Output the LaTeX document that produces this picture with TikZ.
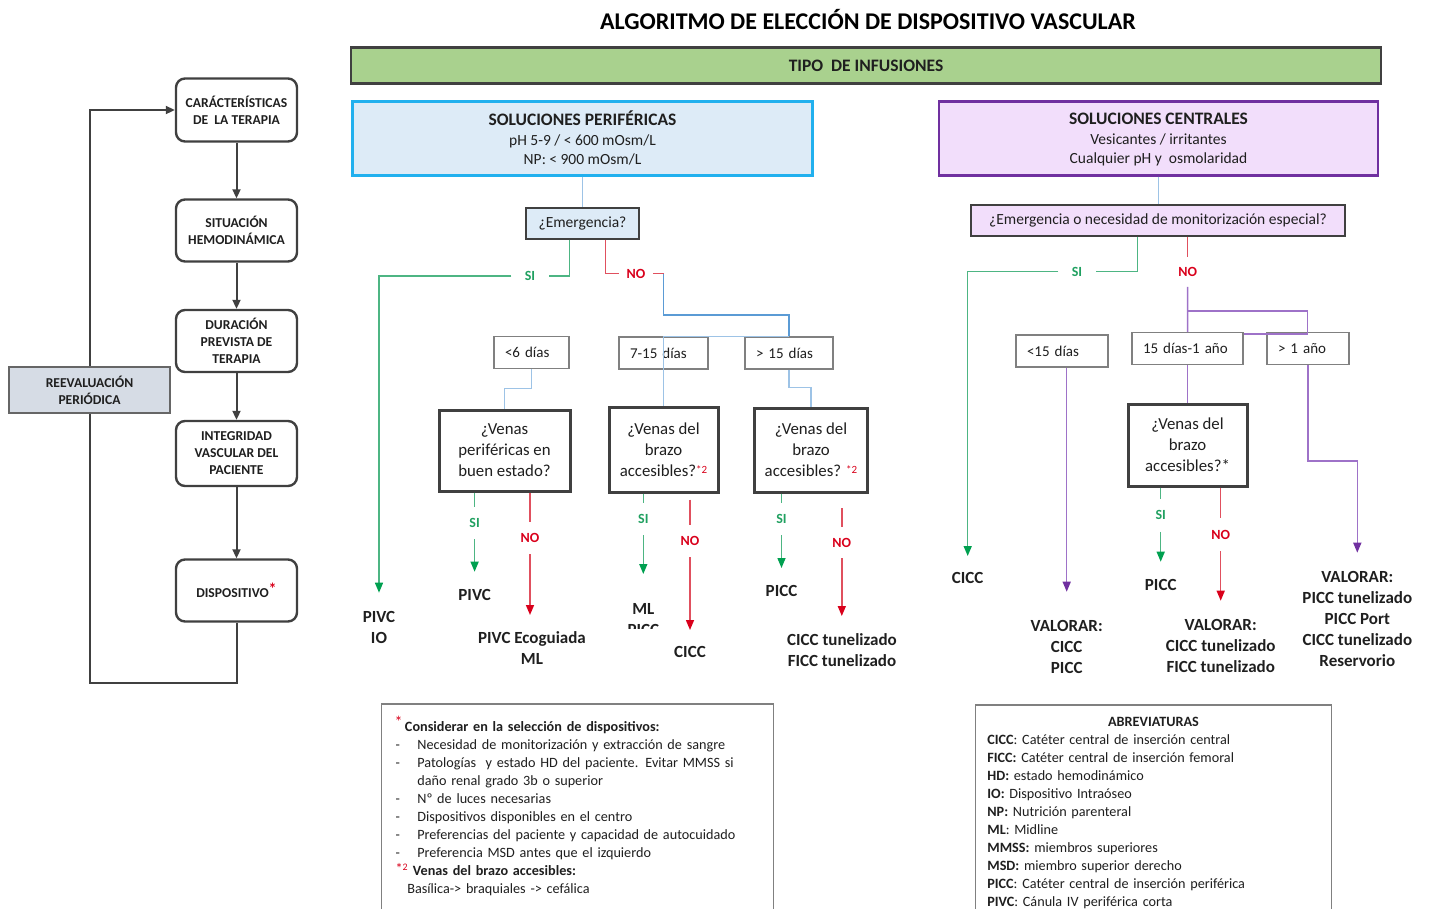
\documentclass[tikz,border=0pt]{standalone}
\usepackage{fontspec}
\setmainfont{Carlito}
\usetikzlibrary{arrows.meta}

\definecolor{txt}{HTML}{1F1F1F}
\definecolor{borde}{HTML}{404040}
\definecolor{gris}{HTML}{808080}
\definecolor{verdebar}{HTML}{A9D18E}
\definecolor{azulfondo}{HTML}{DDEBF7}
\definecolor{azulborde}{HTML}{21B0EE}
\definecolor{lilafondo}{HTML}{F2DEFB}
\definecolor{lilaborde}{HTML}{7030A0}
\definecolor{grisfondo}{HTML}{D6DCE5}
\definecolor{azulclaro}{HTML}{9DC3E6}
\definecolor{azulmedio}{HTML}{5B9BD5}
\definecolor{verdelin}{HTML}{4DB583}
\definecolor{verdepunta}{HTML}{00A050}
\definecolor{verdetxt}{HTML}{20A060}
\definecolor{rojolin}{HTML}{E0505E}
\definecolor{rojo}{HTML}{D9001B}
\definecolor{lila}{HTML}{9E72C8}
\definecolor{lilapunta}{HTML}{7030A0}

\begin{document}
\begin{tikzpicture}[x=1pt, y=-1pt,
  every node/.style={text=txt, inner sep=0pt},
  paso/.style={draw=borde, line width=2.4pt, rounded corners=9pt, fill=white, align=center,
    minimum width=121, minimum height=62, font=\bfseries\fontsize{13.6}{17}\selectfont},
  flecha/.style={draw=borde, line width=2pt, -{Triangle[length=9pt,width=8pt]}},
  cabecera/.style={line width=2.6pt, minimum height=74, align=center, font=\fontsize{15.5}{19.5}\selectfont},
  pregunta/.style={draw=borde, line width=1.3pt, minimum height=31, font=\fontsize{15.5}{17}\selectfont},
  plazo/.style={draw=gris, line width=1.3pt, fill=white, minimum height=32, inner xsep=11pt,
    align=left, font=\fontsize{15}{17}\selectfont},
  venas/.style={draw=borde, line width=3pt, fill=white, align=center, font=\fontsize{16.8}{21}\selectfont},
  resultado/.style={anchor=north, align=center, font=\bfseries\fontsize{17}{21}\selectfont},
  etsi/.style={text=verdetxt, font=\bfseries\fontsize{14}{15}\selectfont},
  etno/.style={text=rojo, font=\bfseries\fontsize{14}{15}\selectfont},
  linverde/.style={draw=verdelin, line width=1.5pt},
  linroja/.style={draw=rojolin, line width=1.5pt},
  linlila/.style={draw=lila, line width=1.5pt},
  conexazul/.style={draw=azulclaro, line width=1.3pt},
  ramasi/.style={linverde, -{Triangle[length=10pt,width=8pt,color=verdepunta]}},
  ramano/.style={linroja, -{Triangle[length=10pt,width=8pt,color=rojo]}},
  ramalila/.style={linlila, -{Triangle[length=10pt,width=8pt,color=lilapunta]}},
  nota/.style={draw=gris, line width=1.3pt, fill=white, anchor=north west, align=left,
    inner xsep=0pt, font=\fontsize{14.2}{18}\selectfont}
]
\useasboundingbox (0,0) rectangle (1429,908);

% Title
\node[font=\bfseries\fontsize{24}{26}\selectfont, text=black] (titulo) at (868,20)
  {ALGORITMO DE ELECCIÓN DE DISPOSITIVO VASCULAR};
\node[draw=borde, line width=2.6pt, fill=verdebar, minimum width=1030, minimum height=36.5,
  font=\bfseries\fontsize{17.5}{18}\selectfont] (tipo) at (866,65.5) {TIPO\ \ DE INFUSIONES};

% Left column
\node[paso, minimum height=63] (car) at (236.5,110) {CARÁCTERÍSTICAS\\DE\ \ LA TERAPIA};
\node[paso] (sit) at (236.5,230.5) {SITUACIÓN\\HEMODINÁMICA};
\node[paso] (dur) at (236.5,341) {DURACIÓN\\PREVISTA DE\\TERAPIA};
\node[paso, minimum height=65] (integ) at (236.5,453.5) {INTEGRIDAD\\VASCULAR DEL\\PACIENTE};
\node[paso] (disp) at (236.5,590.5)
  {DISPOSITIVO\raisebox{3pt}{\textcolor{rojo}{\fontsize{16}{16}\selectfont *}}};
\draw[flecha] (car) -- (sit);
\draw[flecha] (sit) -- (dur);
\draw[flecha] (dur) -- (integ);
\draw[flecha] (integ) -- (disp);
\coordinate (vuelta) at (89.5,683);
\draw[flecha] (disp.south) |- (vuelta) |- (car.west);
\node[draw=borde!80, line width=1.3pt, fill=grisfondo, minimum width=161, minimum height=46,
  align=center, font=\bfseries\fontsize{13.6}{17}\selectfont] (reev) at (89.5,390) {REEVALUACIÓN\\PERIÓDICA};

% Headers
\node[cabecera, draw=azulborde, fill=azulfondo, minimum width=460] (perif) at (582.5,138.2)
  {{\bfseries\fontsize{17.5}{19.5}\selectfont SOLUCIONES PERIFÉRICAS}\\pH 5-9 / < 600 mOsm/L\\NP: < 900 mOsm/L};
\node[cabecera, draw=lilaborde, fill=lilafondo, minimum width=439] (cent) at (1158.5,138.2)
  {{\bfseries\fontsize{17.5}{19.5}\selectfont\vphantom{É}SOLUCIONES CENTRALES}\\Vesicantes / irritantes\\Cualquier pH y\ \ osmolaridad};
\node[pregunta, fill=azulfondo, minimum width=113] (emP) at (582.5,223.5) {¿Emergencia?};
\node[pregunta, fill=lilafondo, minimum width=374] (emC) at (1158,220.5)
  {¿Emergencia o necesidad de monitorización especial?};
\draw[conexazul] (perif.south) -- (perif.south |- emP.north);
\draw[conexazul] (cent.south) -- (cent.south |- emC.north);

% Peripheral branch
\node[plazo, text width=53] (d6) at (531.5,352.5) {<6 días};
\node[plazo, text width=67] (d715) at (663.5,353) {7-15 días};
\node[plazo, text width=66] (d15) at (789,353) {> 15 días};
\node[venas, minimum width=131, minimum height=81] (vb1) at (504.5,450.5) {¿Venas\\periféricas en\\buen estado?};
\node[venas, minimum width=109, minimum height=85] (vb2) at (663.5,449.5)
  {¿Venas del\\brazo\\accesibles?\textcolor{rojo}{\fontsize{11}{11}\selectfont\raisebox{3pt}{*2}}};
\node[venas, minimum width=113, minimum height=84] (vb3) at (811,450)
  {¿Venas del\\brazo\\accesibles? \textcolor{rojo}{\fontsize{11}{11}\selectfont\raisebox{3pt}{*2}}};

\node[etsi, minimum width=37] (siP) at (530,276) {SI};
\node[etno, minimum width=34] (noP) at (636,273.5) {NO};
\node[resultado] (pivcIO) at (379,611.2) {PIVC\\IO};

\draw[linverde] ([xshift=-12.8pt]emP.south) |- (siP.east);
\draw[ramasi, shorten >=18.5pt] (siP.west) -| (pivcIO.north);
\draw[linroja] ([xshift=23.1pt]emP.south) |- (noP.west);
\draw[linroja] (noP.east) -- (noP.east -| d715.north);
\coordinate (reparto) at (0,315);
\draw[draw=azulmedio, line width=1.3pt] (noP.east -| d715.north) -- (reparto -| d715.north) -| (d15.north);
\draw[conexazul] (d715.north) -- (d15.north);
\draw[conexazul] (d715.north) -- (vb2.north);
\draw[conexazul] (d6.south) -- ++(0,19) -| (vb1.north);
\draw[conexazul] (d15.south) -- ++(0,18) -| (vb3.north);

% Labels
\node[etsi, minimum height=32] (si1) at (474.6,523) {SI};
\node[etno, minimum height=32] (no1) at (530,538) {NO};
\node[etsi, minimum height=32] (si2) at (643.3,519) {SI};
\node[etno, minimum height=32] (no2) at (690,541) {NO};
\node[etsi, minimum height=32] (si3) at (781.5,519) {SI};
\node[etno, minimum height=31] (no3) at (841.8,542.5) {NO};
\node[resultado] (pivc1) at (474.6,589.5) {PIVC};
\node[resultado] (ecoML) at (532,631.2) {PIVC Ecoguiada\\ML};
\begin{scope}
  \clip (600,595) rectangle (690,628);
  \node[resultado] (mlPicc) at (643.3,603.5) {ML\\PICC};
\end{scope}
\node[resultado] (cicc1) at (690,646.2) {CICC};
\node[resultado] (picc1) at (781.5,585.2) {PICC};
\node[resultado] (tunel1) at (842,633.5) {CICC tunelizado\\FICC tunelizado};

\draw[linverde] (vb1.south -| si1.north) -- (si1.north);
\draw[ramasi, shorten >=17.8pt] (si1.south) -- (pivc1.north);
\draw[linroja] (vb1.south -| no1.north) -- (no1.north);
\draw[ramano, shorten >=16.2pt] (no1.south) -- (ecoML.north -| no1.south);
\draw[linverde] (vb2.south -| si2.north) -- (si2.north);
\draw[ramasi, shorten >=29.5pt] (si2.south) -- (mlPicc.north);
\draw[linroja, shorten <=6pt] (vb2.south -| no2.north) -- (no2.north);
\draw[ramano, shorten >=16.2pt] (no2.south) -- (cicc1.north);
\draw[linverde] (vb3.south -| si3.north) -- (si3.north);
\draw[ramasi, shorten >=17.2pt] (si3.south) -- (picc1.north);
\draw[linroja, shorten <=14.7pt] (vb3.south -| no3.north) -- (no3.north);
\draw[ramano, shorten >=17.5pt] (no3.south) -- (no3.south |- tunel1.north);

% Central branch
\node[plazo, text width=70] (d15c) at (1062,351) {<15 días};
\node[plazo, text width=89, minimum height=31.5] (d1a) at (1187.5,348.5) {15 días-1 año};
\node[plazo, text width=60, minimum height=31.5] (dmas1) at (1308,348.5) {> 1 año};
\node[venas, minimum width=119, minimum height=82] (vbC) at (1187.5,445) {¿Venas del\\brazo\\accesibles?*};

\node[etsi, minimum width=37] (siC) at (1077,271.7) {SI};
\node[etno, minimum height=30] (noC) at (1187.7,271.7) {NO};
\node[etsi, minimum height=32.7] (siC2) at (1160.7,515.3) {SI};
\node[etno, minimum height=33] (noC2) at (1220.7,534.5) {NO};
\node[resultado] (cicc2) at (967.7,572.5) {CICC};
\node[resultado] (valor1) at (1066.7,620.2) {VALORAR:\\CICC\\PICC};
\node[resultado] (picc2) at (1160.7,579.5) {PICC};
\node[resultado] (valor2) at (1220.7,619.5) {VALORAR:\\CICC tunelizado\\FICC tunelizado};
\node[resultado] (valor3) at (1357.3,571.2) {VALORAR:\\PICC tunelizado\\PICC Port\\CICC tunelizado\\Reservorio};

\draw[linverde] ([xshift=-20.4pt]emC.south) |- (siC.east);
\draw[ramasi, shorten >=16.5pt] (siC.west) -| (cicc2.north);
\draw[linroja] (emC.south -| noC.north) -- (noC.north);
\draw[linlila] (noC.south) -- (d1a.north);
\coordinate (repartoC) at (1307.7,311);
\draw[linlila] (noC.south |- repartoC) -- (repartoC) |- ([yshift=-2pt]d1a.north east);
\draw[ramalila, shorten >=28.5pt] (d15c.south -| valor1.north) -- (valor1.north);
\draw[linlila] (d1a.south) -- (vbC.north);
\draw[ramalila, shorten >=18.5pt] (dmas1.south) -- ++(0,96) -| (valor3.north);
\draw[linverde] (vbC.south -| siC2.north) -- (siC2.north);
\draw[ramasi, shorten >=17.8pt] (siC2.south) -- (picc2.north);
\draw[linroja] (vbC.south -| noC2.north) -- (noC2.north);
\draw[ramano, shorten >=18.8pt] (noC2.south) -- (valor2.north);

% Notes
\node[nota, text width=392, inner ysep=12pt] (consid) at (381,703.3) {\noindent
  \hspace*{13pt}\raisebox{4pt}{\textcolor{rojo}{\fontsize{16}{16}\selectfont *}}\,\textbf{Considerar en la selección de dispositivos:}\\
  \hspace*{14pt}\makebox[21.7pt][l]{-}Necesidad de monitorización y extracción de sangre\\
  \hspace*{14pt}\makebox[21.7pt][l]{-}Patologías\ \ y estado HD del paciente. Evitar MMSS si\\
  \hspace*{35.7pt}daño renal grado 3b o superior\\
  \hspace*{14pt}\makebox[21.7pt][l]{-}Nº de luces necesarias\\
  \hspace*{14pt}\makebox[21.7pt][l]{-}Dispositivos disponibles en el centro\\
  \hspace*{14pt}\makebox[21.7pt][l]{-}Preferencias del paciente y capacidad de autocuidado\\
  \hspace*{14pt}\makebox[21.7pt][l]{-}Preferencia MSD antes que el izquierdo\\
  \hspace*{14pt}\textcolor{rojo}{\raisebox{2pt}{*}\textsuperscript{2}}\ \textbf{Venas del brazo accesibles:}\\
  \hspace*{25.7pt}Basílica-> braquiales -> cefálica\rule[-40pt]{0pt}{0pt}};
\node[nota, text width=355.7, inner ysep=12pt] (abrev) at (975,704.3) {\noindent
  \makebox[\hsize]{\textbf{ABREVIATURAS}}\\
  \hspace*{11.7pt}\textbf{CICC}: Catéter central de inserción central\\
  \hspace*{11.7pt}\textbf{FICC:} Catéter central de inserción femoral\\
  \hspace*{11.7pt}\textbf{HD:} estado hemodinámico\\
  \hspace*{11.7pt}\textbf{IO:} Dispositivo Intraóseo\\
  \hspace*{11.7pt}\textbf{NP:} Nutrición parenteral\\
  \hspace*{11.7pt}\textbf{ML}: Midline\\
  \hspace*{11.7pt}\textbf{MMSS:} miembros superiores\\
  \hspace*{11.7pt}\textbf{MSD:} miembro superior derecho\\
  \hspace*{11.7pt}\textbf{PICC}: Catéter central de inserción periférica\\
  \hspace*{11.7pt}\textbf{PIVC}: Cánula IV periférica corta\rule[-40pt]{0pt}{0pt}};
\end{tikzpicture}
\end{document}
